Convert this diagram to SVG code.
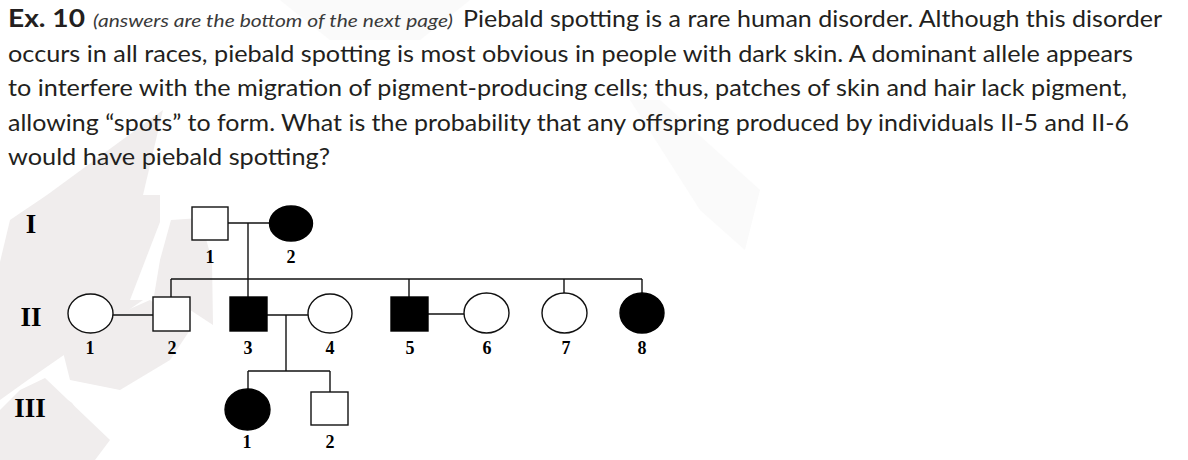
<svg xmlns="http://www.w3.org/2000/svg" width="1188" height="460" viewBox="0 0 1188 460">
<style>
.body{font-family:Lato,"Liberation Sans",sans-serif;font-size:24px;fill:#231f20}
.note{font-family:Lato,"Liberation Sans",sans-serif;font-size:17px;font-style:italic;fill:#3a3a3a}
.bold{font-weight:bold}
.gen{font-family:"Liberation Serif",serif;font-weight:bold;font-size:27px;fill:#000;text-anchor:middle}
.lbl{font-family:"Liberation Serif",serif;font-weight:bold;font-size:18px;fill:#000;text-anchor:middle}
.open{fill:#fff;stroke:#111;stroke-width:1.4}
.aff{fill:#000;stroke:#000;stroke-width:1.4}
.ln{fill:none;stroke:#111;stroke-width:1.4}
.wm{fill:#f0eded}
.wm2{fill:#fafafa}
</style>
<rect width="1188" height="460" fill="#fff"/>
<g id="watermark">
<polygon class="wm2" points="280,0 470,0 420,40 330,40"/>
<polygon class="wm2" points="630,100 660,100 760,190 745,250 700,210"/>
<polygon class="wm" points="163,110 143,195 47,195"/>
<polygon class="wm" points="47,195 160,195 160,222 130,300 143,300 25,382 0,400 0,262 10,220"/>
<polygon class="wm" points="171,220 200,218 212,260 213,325 175,300 150,320 160,260"/>
<polygon class="wm" points="0,410 20,390 45,378 110,440 95,460 0,460"/>
<polygon class="wm" points="60,340 150,300 190,330 170,360 120,390 70,380"/>
<circle class="wm" cx="65" cy="410" r="10"/>
</g>
<g id="question">
<text class="body bold" x="8" y="27" textLength="77" lengthAdjust="spacingAndGlyphs">Ex. 10</text>
<text class="note" x="93" y="27" textLength="360" lengthAdjust="spacingAndGlyphs">(answers are the bottom of the next page)</text>
<text class="body" x="463" y="27" textLength="699" lengthAdjust="spacingAndGlyphs">Piebald spotting is a rare human disorder. Although this disorder</text>
<text class="body" x="8" y="62" textLength="1125" lengthAdjust="spacingAndGlyphs">occurs in all races, piebald spotting is most obvious in people with dark skin. A dominant allele appears</text>
<text class="body" x="8" y="96" textLength="1119" lengthAdjust="spacingAndGlyphs">to interfere with the migration of pigment-producing cells; thus, patches of skin and hair lack pigment,</text>
<text class="body" x="8" y="131" textLength="1121" lengthAdjust="spacingAndGlyphs">allowing “spots” to form. What is the probability that any offspring produced by individuals II-5 and II-6</text>
<text class="body" x="8" y="165" textLength="322" lengthAdjust="spacingAndGlyphs">would have piebald spotting?</text>
</g>
<g id="generations">
<text class="gen" x="31" y="233">I</text>
<text class="gen" x="31" y="326">II</text>
<text class="gen" x="30" y="417">III</text>
</g>
<g id="connectors">
<line class="ln" x1="228" y1="223" x2="270" y2="223"/>
<line class="ln" x1="248" y1="223" x2="248" y2="279"/>
<line class="ln" x1="171" y1="279" x2="642" y2="279"/>
<line class="ln" x1="171" y1="279" x2="171" y2="297"/>
<line class="ln" x1="248" y1="279" x2="248" y2="297"/>
<line class="ln" x1="409" y1="279" x2="409" y2="297"/>
<line class="ln" x1="564" y1="279" x2="564" y2="293"/>
<line class="ln" x1="642" y1="279" x2="642" y2="293"/>
<line class="ln" x1="113" y1="315" x2="153" y2="315"/>
<line class="ln" x1="267" y1="315" x2="308" y2="315"/>
<line class="ln" x1="286" y1="315" x2="286" y2="371"/>
<line class="ln" x1="428" y1="314" x2="464" y2="314"/>
<line class="ln" x1="248" y1="371" x2="330" y2="371"/>
<line class="ln" x1="248" y1="371" x2="248" y2="389"/>
<line class="ln" x1="330" y1="371" x2="330" y2="392"/>
</g>
<g id="I-1"><rect class="open" x="192" y="207" width="36" height="33"/><text class="lbl" x="210" y="263">1</text></g>
<g id="I-2"><ellipse class="aff" cx="291" cy="223.5" rx="21.5" ry="17.5"/><text class="lbl" x="291" y="263">2</text></g>
<g id="II-1"><ellipse class="open" cx="90.5" cy="313.5" rx="22.5" ry="19.5"/><text class="lbl" x="90" y="354">1</text></g>
<g id="II-2"><rect class="open" x="153" y="297" width="37" height="34"/><text class="lbl" x="172" y="354">2</text></g>
<g id="II-3"><rect class="aff" x="230" y="297" width="37" height="34"/><text class="lbl" x="248" y="354">3</text></g>
<g id="II-4"><ellipse class="open" cx="330" cy="313.5" rx="22" ry="19.5"/><text class="lbl" x="330" y="354">4</text></g>
<g id="II-5"><rect class="aff" x="391" y="297" width="37" height="34"/><text class="lbl" x="410" y="354">5</text></g>
<g id="II-6"><ellipse class="open" cx="486.5" cy="313" rx="22.5" ry="20"/><text class="lbl" x="487" y="354">6</text></g>
<g id="II-7"><ellipse class="open" cx="564.5" cy="313" rx="22.5" ry="20"/><text class="lbl" x="566" y="354">7</text></g>
<g id="II-8"><ellipse class="aff" cx="642" cy="313" rx="22" ry="20"/><text class="lbl" x="642" y="354">8</text></g>
<g id="III-1"><ellipse class="aff" cx="247.5" cy="409.5" rx="22.5" ry="20.5"/><text class="lbl" x="247" y="448">1</text></g>
<g id="III-2"><rect class="open" x="311" y="392" width="37" height="33"/><text class="lbl" x="330" y="448">2</text></g>
</svg>
